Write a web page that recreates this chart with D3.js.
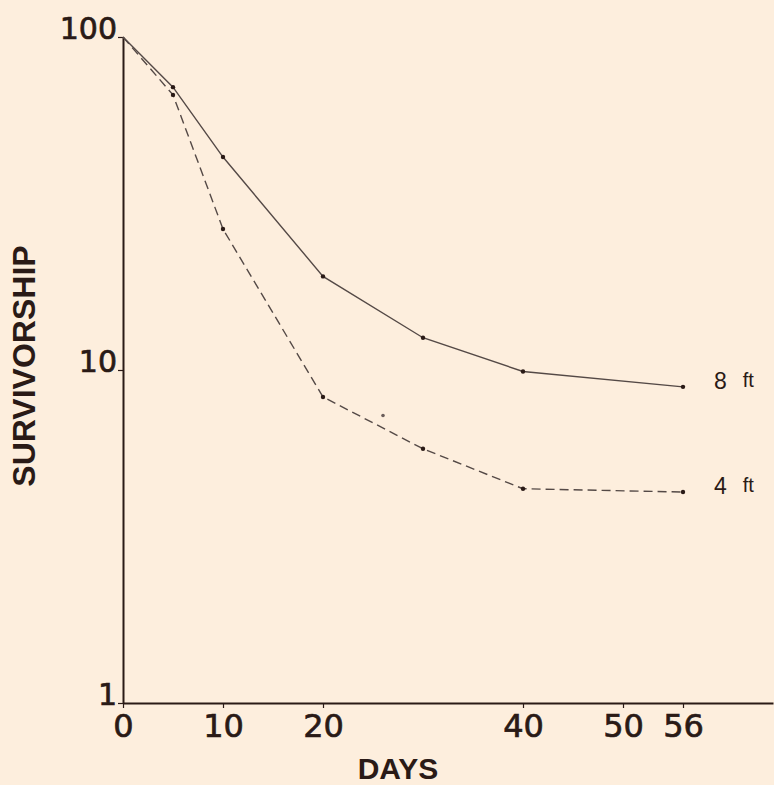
<!DOCTYPE html>
<html>
<head>
<meta charset="utf-8">
<script src="https://cdn.jsdelivr.net/npm/d3@7"></script>
<style>
  html, body { margin: 0; padding: 0; background: #fdeedd; }
  svg { display: block; }
  text { font-family: "Liberation Sans", Arial, sans-serif; fill: #2a1a16; }
</style>
</head>
<body>
<svg id="chart" width="774" height="785"></svg>
<script>
// days sampled for each depth
const days = [0, 5, 10, 20, 30, 40, 56];
// survivorship (% remaining)
const surv8ft = [100, 70.7, 43.6, 19.1, 12.5, 9.9, 8.9];
const surv4ft = [100, 67, 26.5, 8.3, 5.8, 4.4, 4.3];
// lone point sitting between the curves
const strayDay = [26];
const straySurv = [7.3];

const xTicks = [0, 10, 20, 40, 50, 56];
const yTicks = [1, 10, 100];

const svg = d3.select("#chart"),
    width = +svg.attr("width"),
    height = +svg.attr("height");

const x = d3.scaleLinear().domain([0, 65]).range([123, 773]);
const y = d3.scaleLog().domain([1, 100]).range([703, 37]);

const ink = "#2a1a16";
const numFont = "'DejaVu Sans', 'Liberation Sans', sans-serif";

// x axis: line runs to the right edge, short ticks hang below
const xAxis = svg.append("g")
    .attr("transform", `translate(0,${y(1)})`)
    .call(d3.axisBottom(x).tickValues(xTicks).tickSize(5).tickSizeOuter(0).tickPadding(6).tickFormat(d3.format("d")));
xAxis.select(".domain").attr("stroke", ink).attr("stroke-width", 2);
xAxis.selectAll(".tick line").attr("stroke", ink).attr("stroke-width", 1.2);
xAxis.selectAll(".tick text")
    .attr("font-size", 32)
    .attr("fill", ink)
    .attr("stroke", ink)
    .attr("stroke-width", 0.7)
    .style("font-family", numFont);

// y axis: log, only 1 / 10 / 100
const yAxis = svg.append("g")
    .attr("transform", `translate(${x(0)},0)`)
    .call(d3.axisLeft(y).tickValues(yTicks).tickSize(5).tickSizeOuter(0).tickPadding(1).tickFormat(d3.format("d")));
yAxis.select(".domain").attr("stroke", ink).attr("stroke-width", 2);
yAxis.selectAll(".tick line").attr("stroke", ink).attr("stroke-width", 1.2);
yAxis.selectAll(".tick text")
    .attr("font-size", 30)
    .attr("fill", ink)
    .attr("stroke", ink)
    .attr("stroke-width", 0.7)
    .attr("dy", "0.05em")
    .style("font-family", numFont);

// axis titles
svg.append("text")
    .attr("x", 398).attr("y", 779)
    .attr("text-anchor", "middle")
    .attr("font-size", 30)
    .attr("font-weight", "bold")
    .text("DAYS");

svg.append("text")
    .attr("transform", "translate(35,366) rotate(-90)")
    .attr("text-anchor", "middle")
    .attr("font-size", 32)
    .attr("font-weight", "bold")
    .text("SURVIVORSHIP");

// series
const series = [
    { name: "8", values: surv8ft, dash: null },
    { name: "4", values: surv4ft, dash: "9,5" }
];

const line = d3.line()
    .x(d => x(d[0]))
    .y(d => y(d[1]));

series.forEach(s => {
    const pts = days.map((d, i) => [d, s.values[i]]);

    svg.append("path")
        .datum(pts)
        .attr("fill", "none")
        .attr("stroke", "#544946")
        .attr("stroke-width", 1.4)
        .attr("stroke-dasharray", s.dash)
        .attr("d", line);

    svg.append("g")
        .selectAll("circle")
        .data(pts.slice(1))
        .enter().append("circle")
        .attr("cx", d => x(d[0]))
        .attr("cy", d => y(d[1]))
        .attr("r", 2.2)
        .attr("fill", ink);

    // end label, e.g. "8  ft"
    const last = pts[pts.length - 1];
    const lab = svg.append("text")
        .attr("x", x(last[0]) + 31)
        .attr("y", y(last[1]) + 2);
    lab.append("tspan").attr("font-size", 23).text(s.name);
    lab.append("tspan").attr("font-size", 20).attr("dx", 16).attr("dy", -2).text("ft");
});

svg.append("g")
    .selectAll("circle")
    .data(strayDay.map((d, i) => [d, straySurv[i]]))
    .enter().append("circle")
    .attr("cx", d => x(d[0]))
    .attr("cy", d => y(d[1]))
    .attr("r", 1.8)
    .attr("fill", "#6a5d5a");
</script>
</body>
</html>
